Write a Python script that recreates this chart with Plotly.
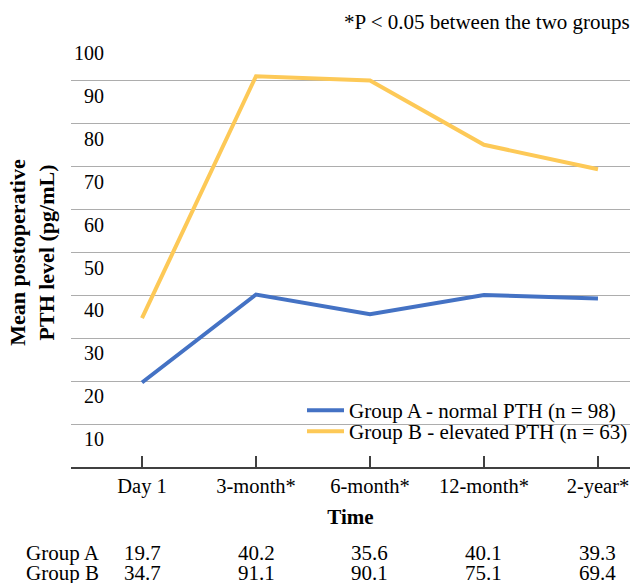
import plotly.graph_objects as go

categories = ["Day 1", "3-month*", "6-month*", "12-month*", "2-year*"]
group_a = [19.7, 40.2, 35.6, 40.1, 39.3]
group_b = [34.7, 91.1, 90.1, 75.1, 69.4]
name_a = "Group A - normal PTH (n = 98)"
name_b = "Group B - elevated PTH (n = 63)"
y_ticks = [10, 20, 30, 40, 50, 60, 70, 80, 90, 100]

FONT = "Liberation Serif, Times New Roman, serif"
W, H = 633, 583
ML, MR, MT, MB = 71, 3, 38, 116
plot_h = H - MT - MB
plot_w = W - ML - MR

def py_to_paper(py):
    return (H - MB - py) / plot_h

def px_to_paper(px):
    return (px - ML) / plot_w

fig = go.Figure()
fig.add_trace(go.Scatter(x=categories, y=group_a, mode="lines", name=name_a,
                         line=dict(color="#4472C4", width=4), legend="legend"))
fig.add_trace(go.Scatter(x=categories, y=group_b, mode="lines", name=name_b,
                         line=dict(color="#FDC957", width=4), legend="legend2"))

annotations = []
for label, vals, py in (("Group A", group_a, 553), ("Group B", group_b, 573)):
    annotations.append(dict(text=label, xref="paper", yref="paper",
                            x=px_to_paper(24), y=py_to_paper(py),
                            xanchor="left", yanchor="middle", showarrow=False,
                            font=dict(family=FONT, size=21, color="#000")))
    for c, v in zip(categories, vals):
        annotations.append(dict(text=f"{v:.1f}", xref="x", yref="paper",
                                x=c, y=py_to_paper(py), xanchor="center",
                                yanchor="middle", showarrow=False,
                                font=dict(family=FONT, size=21, color="#000")))
annotations.append(dict(text="*P &lt; 0.05 between the two groups", xref="paper",
                        yref="paper", x=px_to_paper(632), y=py_to_paper(22),
                        xanchor="right", yanchor="middle", showarrow=False,
                        font=dict(family=FONT, size=21, color="#000")))

legend_common = dict(xanchor="left", yanchor="top", bgcolor="rgba(0,0,0,0)",
                     font=dict(family=FONT, size=21, color="#000"),
                     itemwidth=37, borderwidth=0)

fig.update_layout(
    width=W, height=H,
    margin=dict(l=ML, r=MR, t=MT, b=MB, autoexpand=False),
    paper_bgcolor="white", plot_bgcolor="white",
    font=dict(family=FONT, size=20, color="#000"),
    showlegend=True,
    legend=dict(x=px_to_paper(302), y=py_to_paper(390), **legend_common),
    legend2=dict(x=px_to_paper(302), y=py_to_paper(411), **legend_common),
    annotations=annotations,
    xaxis=dict(type="category", range=[-0.623, 4.281], showgrid=False,
               automargin=False,
               showline=True, linecolor="#404040", linewidth=1.5,
               ticks="inside", ticklen=11, tickcolor="#404040", tickwidth=1.5,
               tickfont=dict(family=FONT, size=20.5),
               title=dict(text="<b>Time</b>", font=dict(family=FONT, size=21),
                          standoff=12)),
    yaxis=dict(range=[0, 100], tickvals=y_ticks, showgrid=True,
               anchor="free", position=px_to_paper(104), automargin=False,
               gridcolor="#ADADAD", gridwidth=1.2, zeroline=False,
               showline=False, ticks="", ticklabelshift=15,
               tickfont=dict(family=FONT, size=20),
               title=dict(text="<b>Mean postoperative<br>PTH level (pg/mL)</b>",
                          font=dict(family=FONT, size=22), standoff=12)),
)

fig.write_html("out.html", config={"displayModeBar": False},
               post_script="document.body.style.margin='0';")
